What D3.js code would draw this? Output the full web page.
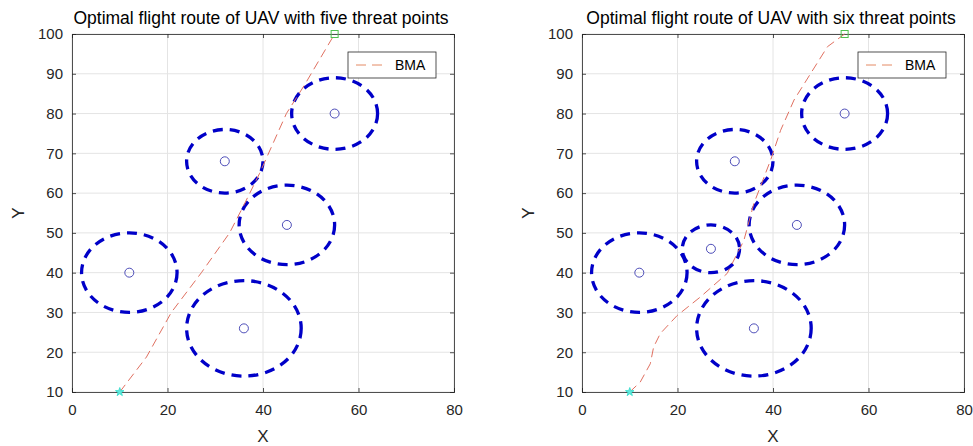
<!DOCTYPE html>
<html>
<head>
<meta charset="utf-8">
<script src="https://cdn.jsdelivr.net/npm/d3@7"></script>
<style>
body { margin: 0; background: #fff; }
svg text { font-family: "Liberation Sans", Arial, sans-serif; }
</style>
</head>
<body>
<svg id="chart" width="973" height="446"></svg>
<script>
// threat points: centre x, centre y, radius
var threatsFive = [
  [12, 40, 10], [36, 26, 12], [45, 52, 10], [32, 68, 8], [55, 80, 9]
];
var threatsSix = [
  [12, 40, 10], [27, 46, 6], [36, 26, 12], [45, 52, 10], [32, 68, 8], [55, 80, 9]
];
// BMA routes
var routeFiveX = [10, 15.6, 20.8, 27.1, 33, 36, 39.3, 44.9, 48.7, 55];
var routeFiveY = [10, 18.8, 30, 40, 50, 57, 65, 80, 87.2, 100];
var routeSixX = [10, 12.2, 14.3, 15.0, 16.4, 19.9, 24.8, 30.4, 33.9, 36.0, 39.5, 41.6, 44.4, 47.9, 51.4, 55];
var routeSixY = [10, 12.5, 17.1, 21.3, 24.7, 29.2, 33.9, 39.8, 48.1, 57.4, 68.3, 75.8, 83.4, 90.1, 96.8, 100];
var startPt = [10, 10];
var endPt = [55, 100];
var xTicks = [0, 20, 40, 60, 80];
var yTicks = [10, 20, 30, 40, 50, 60, 70, 80, 90, 100];
var titles = ["Optimal flight route of UAV with five threat points",
              "Optimal flight route of UAV with six threat points"];

var svg = d3.select("#chart");

function drawPanel(left, title, threats, rx, ry) {
  var g = svg.append("g");
  var x = d3.scaleLinear().domain([0, 80]).range([left, left + 382]);
  var y = d3.scaleLinear().domain([10, 100]).range([392, 34]);

  // grid
  g.selectAll(".gx").data(xTicks).enter().append("line")
    .attr("x1", d => x(d)).attr("x2", d => x(d))
    .attr("y1", y(10)).attr("y2", y(100))
    .attr("stroke", "#e4e4e4").attr("stroke-width", 1);
  g.selectAll(".gy").data(yTicks).enter().append("line")
    .attr("x1", x(0)).attr("x2", x(80))
    .attr("y1", d => y(d)).attr("y2", d => y(d))
    .attr("stroke", "#e4e4e4").attr("stroke-width", 1);

  // axes with inward ticks
  var ax = d3.axisBottom(x).tickValues(xTicks).tickSize(-4).tickPadding(12);
  var ay = d3.axisLeft(y).tickValues(yTicks).tickSize(-4).tickPadding(9);
  var axT = d3.axisTop(x).tickValues(xTicks).tickSize(-4).tickFormat("");
  var ayR = d3.axisRight(y).tickValues(yTicks).tickSize(-4).tickFormat("");
  [[ax, "translate(0," + y(10) + ")"], [ay, "translate(" + x(0) + ",0)"],
   [axT, "translate(0," + y(100) + ")"], [ayR, "translate(" + x(80) + ",0)"]].forEach(function(a) {
    var s = g.append("g").attr("transform", a[1]).call(a[0]);
    s.selectAll("path,line").attr("stroke", "#262626").attr("stroke-width", 0.8);
    s.selectAll("text").attr("fill", "#262626").attr("font-size", 15)
      .style("font-family", "Liberation Sans, Arial, sans-serif");
  });

  // threat circles
  g.selectAll(".thr").data(threats).enter().append("ellipse")
    .attr("cx", d => x(d[0])).attr("cy", d => y(d[1]))
    .attr("rx", d => x(d[2]) - x(0)).attr("ry", d => y(10) - y(10 + d[2]))
    .attr("fill", "none").attr("stroke", "#0000c8").attr("stroke-width", 3.3)
    .attr("stroke-dasharray", "10,7");
  g.selectAll(".ctr").data(threats).enter().append("circle")
    .attr("cx", d => x(d[0])).attr("cy", d => y(d[1])).attr("r", 4.5)
    .attr("fill", "none").attr("stroke", "#3a3ab0").attr("stroke-width", 0.9);

  // route
  var pts = d3.zip(rx, ry);
  g.append("path").datum(pts)
    .attr("d", d3.line().x(d => x(d[0])).y(d => y(d[1])))
    .attr("fill", "none").attr("stroke", "#e07060").attr("stroke-width", 1)
    .attr("stroke-dasharray", "9,5");

  // start and end markers
  g.append("path").attr("transform", "translate(" + x(startPt[0]) + "," + y(startPt[1]) + ")")
    .attr("d", d3.symbol().type(d3.symbolStar).size(22))
    .attr("fill", "#60e8dc").attr("stroke", "#40e0d0").attr("stroke-width", 1);
  g.append("rect").attr("x", x(endPt[0]) - 3.5).attr("y", y(endPt[1]) - 3.5)
    .attr("width", 7).attr("height", 7)
    .attr("fill", "none").attr("stroke", "#50c050").attr("stroke-width", 1);

  // legend
  var lx = x(80) - 106, ly = 52;
  g.append("rect").attr("x", lx).attr("y", ly).attr("width", 88).attr("height", 26)
    .attr("fill", "#fff").attr("stroke", "#262626").attr("stroke-width", 0.8);
  g.append("line").attr("x1", lx + 8).attr("x2", lx + 40).attr("y1", ly + 13).attr("y2", ly + 13)
    .attr("stroke", "#e48a64").attr("stroke-width", 1).attr("stroke-dasharray", "10,6");
  g.append("text").attr("x", lx + 47).attr("y", ly + 18).attr("font-size", 14)
    .attr("fill", "#000").text("BMA");

  // labels
  g.append("text").attr("x", x(40) - 2).attr("y", 24).attr("text-anchor", "middle")
    .attr("font-size", 17.5).attr("fill", "#000").text(title);
  g.append("text").attr("x", x(40)).attr("y", 442).attr("text-anchor", "middle")
    .attr("font-size", 17).attr("fill", "#262626").text("X");
  g.append("text").attr("transform", "translate(" + (left - 48) + "," + y(55) + ") rotate(-90)")
    .attr("text-anchor", "middle").attr("font-size", 17).attr("fill", "#262626").text("Y");
}

drawPanel(72, titles[0], threatsFive, routeFiveX, routeFiveY);
drawPanel(582, titles[1], threatsSix, routeSixX, routeSixY);
</script>
</body>
</html>
